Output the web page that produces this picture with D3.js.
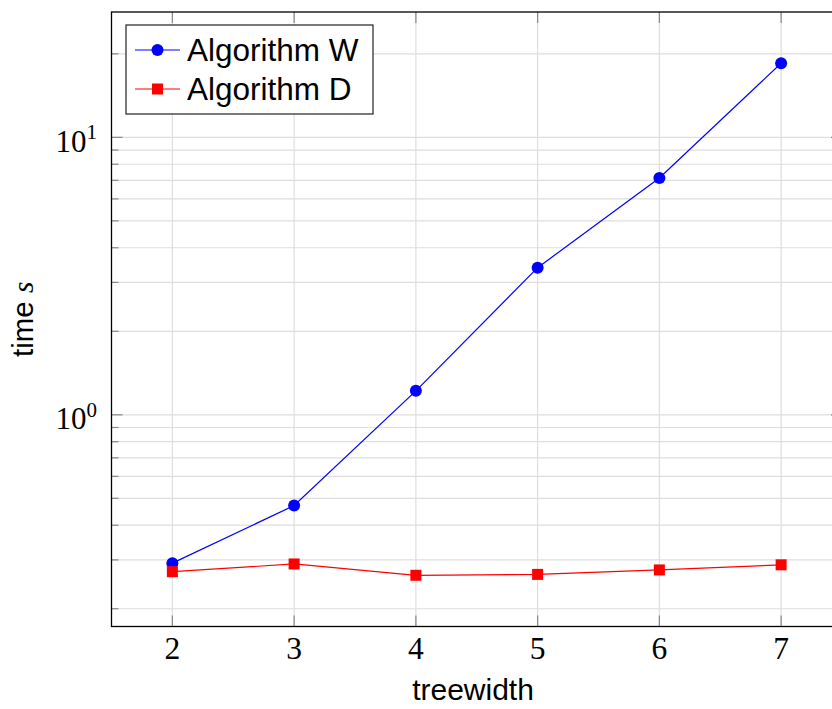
<!DOCTYPE html>
<html>
<head>
<meta charset="utf-8">
<script src="https://cdn.jsdelivr.net/npm/d3@7"></script>
<style>
  body { margin:0; background:#fff; }
  svg { display:block; }
</style>
</head>
<body>
<div class="canvas"></div>
<script>
// data
var treewidth = [2, 3, 4, 5, 6, 7];
var algoW = [0.292, 0.471, 1.22, 3.39, 7.14, 18.5];
var algoD = [0.272, 0.290, 0.264, 0.266, 0.276, 0.288];
var seriesNames = ['Algorithm W', 'Algorithm D'];

var W = 832, H = 709;
var margin = {t:12, l:111.5, b:626.5, r:842};

var svg = d3.select('.canvas')
  .append('svg')
  .attr('width', W)
  .attr('height', H);

// pgfplots-ish limits: 10% enlargement in log space
var all = algoW.concat(algoD);
var lmin = Math.log10(d3.min(all)), lmax = Math.log10(d3.max(all));
var pad = (lmax - lmin) * 0.1;

var x = d3.scaleLinear().domain([1.5, 7.5]).range([margin.l, margin.r]);
var y = d3.scaleLog()
  .domain([Math.pow(10, lmin - pad), Math.pow(10, lmax + pad)])
  .range([margin.b, margin.t]);

// y ticks: majors at decades, minors 2..9
var majors = [], minors = [];
for (var k = -2; k <= 2; k++) {
  for (var m = 1; m <= 9; m++) {
    var v = m * Math.pow(10, k);
    if (v < y.domain()[0] || v > y.domain()[1]) continue;
    if (m == 1) majors.push(v); else minors.push(v);
  }
}

var grid = svg.append('g').attr('stroke', '#dedede').attr('stroke-width', 1.2);
majors.concat(minors).forEach(function(v){
  grid.append('line')
    .attr('x1', margin.l).attr('x2', margin.r)
    .attr('y1', y(v)).attr('y2', y(v));
});
treewidth.forEach(function(t){
  grid.append('line')
    .attr('x1', x(t)).attr('x2', x(t))
    .attr('y1', margin.t).attr('y2', margin.b);
});

// ticks (inward, both sides)
var ticks = svg.append('g').attr('stroke', '#888').attr('stroke-width', 1.2);
majors.forEach(function(v){
  ticks.append('line').attr('x1', margin.l).attr('x2', margin.l + 11).attr('y1', y(v)).attr('y2', y(v));
  ticks.append('line').attr('x1', margin.r).attr('x2', margin.r - 11).attr('y1', y(v)).attr('y2', y(v));
});
minors.forEach(function(v){
  ticks.append('line').attr('x1', margin.l).attr('x2', margin.l + 7).attr('y1', y(v)).attr('y2', y(v));
  ticks.append('line').attr('x1', margin.r).attr('x2', margin.r - 7).attr('y1', y(v)).attr('y2', y(v));
});
treewidth.forEach(function(t){
  ticks.append('line').attr('x1', x(t)).attr('x2', x(t)).attr('y1', margin.b).attr('y2', margin.b - 11);
  ticks.append('line').attr('x1', x(t)).attr('x2', x(t)).attr('y1', margin.t).attr('y2', margin.t + 11);
});

// frame
svg.append('rect')
  .attr('x', margin.l).attr('y', margin.t)
  .attr('width', margin.r - margin.l).attr('height', margin.b - margin.t)
  .attr('fill', 'none').attr('stroke', '#000').attr('stroke-width', 1.3);

// tick labels
var serif = '"Liberation Serif", "DejaVu Serif", serif';
var sans = '"Liberation Sans", Arial, sans-serif';
majors.forEach(function(v){
  var t = svg.append('text')
    .attr('x', 97).attr('y', y(v) + 14.5)
    .attr('text-anchor', 'end')
    .style('font-family', serif).style('font-size', '31px').style('fill', '#000');
  t.append('tspan').text('10');
  t.append('tspan').attr('dy', -12.5).style('font-size', '21px').text(Math.round(Math.log10(v)));
});
treewidth.forEach(function(t){
  svg.append('text')
    .attr('x', x(t)).attr('y', 659)
    .attr('text-anchor', 'middle')
    .style('font-family', serif).style('font-size', '31.5px')
    .text(t);
});

// axis labels
svg.append('text')
  .attr('x', 473).attr('y', 700)
  .attr('text-anchor', 'middle')
  .style('font-family', sans).style('font-size', '30px')
  .text('treewidth');

var yl = svg.append('text')
  .attr('transform', 'translate(33,' + ((margin.t + margin.b) / 2) + ') rotate(-90)')
  .attr('text-anchor', 'middle')
  .style('font-family', sans).style('font-size', '29.5px');
yl.append('tspan').text('time ');
yl.append('tspan').style('font-family', serif).style('font-style', 'italic').text('s');

// series
var line = d3.line().x(function(d){ return x(d[0]); }).y(function(d){ return y(d[1]); });
var dataW = treewidth.map(function(t, i){ return [t, algoW[i]]; });
var dataD = treewidth.map(function(t, i){ return [t, algoD[i]]; });

var plot = svg.append('g');
plot.append('path').datum(dataW).attr('d', line)
  .attr('fill', 'none').attr('stroke', '#0000ff').attr('stroke-width', 1.2);
plot.selectAll('.cw').data(dataW).enter().append('circle')
  .attr('cx', function(d){ return x(d[0]); })
  .attr('cy', function(d){ return y(d[1]); })
  .attr('r', 6).attr('fill', '#0000ff');

plot.append('path').datum(dataD).attr('d', line)
  .attr('fill', 'none').attr('stroke', '#ff0000').attr('stroke-width', 1.2);
plot.selectAll('.sd').data(dataD).enter().append('rect')
  .attr('x', function(d){ return x(d[0]) - 5.5; })
  .attr('y', function(d){ return y(d[1]) - 5.5; })
  .attr('width', 11).attr('height', 11).attr('fill', '#ff0000');

// legend
var lg = svg.append('g');
lg.append('rect').attr('x', 126).attr('y', 25).attr('width', 247).attr('height', 89)
  .attr('fill', '#fff').attr('stroke', '#222').attr('stroke-width', 1.2);
var colors = ['#0000ff', '#ff0000'];
seriesNames.forEach(function(name, i){
  var cy = 50 + i * 39;
  lg.append('line').attr('x1', 135).attr('x2', 180).attr('y1', cy).attr('y2', cy)
    .attr('stroke', colors[i]).attr('stroke-width', 1.2);
  if (i == 0) {
    lg.append('circle').attr('cx', 157.5).attr('cy', cy).attr('r', 6).attr('fill', colors[i]);
  } else {
    lg.append('rect').attr('x', 152).attr('y', cy - 5.5).attr('width', 11).attr('height', 11).attr('fill', colors[i]);
  }
  lg.append('text').attr('x', 187).attr('y', cy + 10.5)
    .style('font-family', sans).style('font-size', '31.5px')
    .text(name);
});
</script>
</body>
</html>
